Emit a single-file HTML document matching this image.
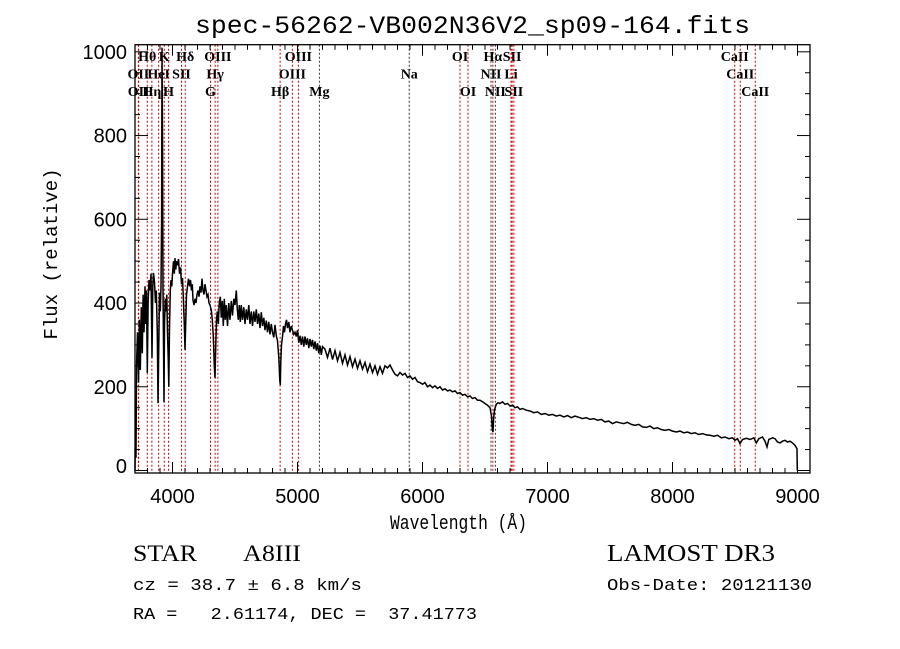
<!DOCTYPE html>
<html><head><meta charset="utf-8"><style>
body{margin:0;background:#fff;}
svg{display:block;}
</style></head><body>
<svg id="chart" width="900" height="649" viewBox="0 0 900 649" xmlns="http://www.w3.org/2000/svg">
<rect width="900" height="649" fill="#fff"/>
<text x="195" y="33" textLength="555" lengthAdjust="spacingAndGlyphs" font-family="Liberation Mono, monospace" font-size="25">spec-56262-VB002N36V2_sp09-164.fits</text>
<g id="lines"></g>
<g id="spec"></g>
<g id="axes"></g>
<text x="390" y="529" textLength="137" lengthAdjust="spacingAndGlyphs" font-family="Liberation Mono, monospace" font-size="20">Wavelength (Å)</text>
<text transform="translate(57,254) rotate(-90)" text-anchor="middle" font-family="Liberation Mono, monospace" font-size="19">Flux (relative)</text>
<text x="133" y="561" textLength="64" lengthAdjust="spacingAndGlyphs" font-family="Liberation Serif, serif" font-size="23">STAR</text>
<text x="243" y="561" textLength="58" lengthAdjust="spacingAndGlyphs" font-family="Liberation Serif, serif" font-size="23">A8III</text>
<text x="607" y="561" textLength="168" lengthAdjust="spacingAndGlyphs" font-family="Liberation Serif, serif" font-size="24">LAMOST DR3</text>
<text x="133" y="590" textLength="229" lengthAdjust="spacingAndGlyphs" font-family="Liberation Mono, monospace" font-size="17">cz = 38.7 ± 6.8 km/s</text>
<text x="607" y="590" textLength="205" lengthAdjust="spacingAndGlyphs" font-family="Liberation Mono, monospace" font-size="17">Obs-Date: 20121130</text>
<text x="133" y="619" xml:space="preserve" textLength="344" lengthAdjust="spacingAndGlyphs" font-family="Liberation Mono, monospace" font-size="17">RA =   2.61174, DEC =  37.41773</text>
</svg>
<script>
const xTicks=[4000,5000,6000,7000,8000,9000];
const yTicks=[0,200,400,600,800,1000];
const lineWave=[3798,3934,4102,4363,5007,6300,6563,6717,8498, 3727,3889,4072,4341,4959,5894,6548,6708,8542, 3729,3835,3969,4304,4861,5175,6364,6583,6731,8662];
const lineLabel=["Hθ","K","Hδ","OIII","OIII","OI","Hα","SII","CaII", "OII","HeI","SII","Hγ","OIII","Na","NII","Li","CaII", "OII","Hη","H","G","Hβ","Mg","OI","NII","SII","CaII"];
const lineRow=[0,0,0,0,0,0,0,0,0, 1,1,1,1,1,1,1,1,1, 2,2,2,2,2,2,2,2,2,2];
const lineDark=["Na","Mg","NII"];
const wave=[3700,3703,3708,3712,3720,3728,3735,3742,3750,3758,3765,3772,3780,3786,3792,3798,3805,3812,3820,3828,3836,3842,3848,3856,3864,3870,3878,3884,3890,3896,3902,3908,3913,3916,3920,3924,3928,3932,3936,3942,3948,3954,3960,3966,3970,3976,3982,3988,3994,4000,4008,4014,4020,4026,4032,4040,4048,4056,4064,4072,4080,4088,4094,4100,4106,4112,4120,4128,4136,4144,4152,4158,4164,4172,4180,4188,4196,4204,4212,4220,4228,4236,4244,4252,4260,4268,4276,4284,4292,4300,4310,4318,4326,4334,4340,4346,4352,4358,4366,4374,4382,4390,4398,4406,4414,4422,4430,4440,4450,4460,4470,4480,4490,4500,4510,4518,4526,4534,4542,4550,4560,4570,4580,4590,4600,4610,4620,4630,4640,4650,4660,4670,4680,4690,4700,4710,4720,4730,4740,4750,4760,4770,4780,4790,4800,4810,4820,4830,4840,4850,4858,4862,4866,4872,4880,4888,4896,4904,4912,4920,4930,4940,4950,4960,4970,4980,4990,5000,5010,5020,5030,5040,5050,5060,5070,5080,5090,5100,5110,5120,5130,5140,5150,5160,5170,5180,5190,5200,5220,5240,5260,5280,5300,5320,5340,5360,5380,5400,5420,5440,5460,5480,5500,5520,5540,5560,5580,5600,5620,5640,5660,5680,5700,5720,5740,5760,5780,5800,5820,5840,5860,5880,5900,5920,5940,5960,5980,6000,6020,6040,6060,6080,6100,6120,6140,6160,6180,6200,6220,6240,6260,6280,6300,6320,6340,6360,6380,6400,6420,6440,6460,6480,6500,6520,6540,6552,6560,6564,6568,6576,6590,6604,6620,6640,6660,6680,6700,6720,6740,6760,6780,6800,6830,6860,6890,6920,6950,6980,7010,7040,7070,7100,7130,7160,7190,7220,7250,7280,7310,7340,7370,7400,7430,7460,7490,7520,7550,7580,7610,7640,7670,7700,7730,7760,7790,7820,7850,7880,7910,7940,7970,8000,8030,8060,8090,8120,8150,8180,8210,8240,8270,8300,8330,8360,8390,8420,8450,8480,8500,8520,8540,8560,8590,8620,8650,8670,8690,8720,8740,8756,8770,8800,8820,8840,8860,8880,8900,8920,8940,8960,8980,8996,8998];
const flux=[0,110,30,250,330,210,360,240,390,280,420,330,440,350,430,233,400,455,430,470,269,440,472,450,400,430,330,161,300,425,380,440,600,1010,800,430,300,163,350,410,380,420,330,260,200,340,430,455,440,470,500,470,507,480,500,490,505,470,485,445,460,400,350,288,360,420,440,458,440,455,430,445,407,395,410,400,420,430,415,440,425,458,430,420,445,430,415,420,400,395,383,360,320,250,221,300,360,380,350,400,415,365,405,345,410,360,395,345,400,360,405,370,410,395,430,385,360,395,355,395,360,390,350,385,360,395,350,380,345,380,355,385,350,375,340,378,345,365,335,358,330,355,325,350,330,318,348,322,310,270,215,204,260,300,320,345,330,350,360,340,355,330,345,335,325,330,320,335,305,322,300,320,296,320,300,316,292,314,296,312,290,308,286,304,280,298,276,296,290,270,292,265,286,262,282,256,276,252,272,248,266,244,262,242,258,236,254,234,250,230,248,232,250,245,252,240,230,226,234,228,232,222,226,218,222,212,210,206,210,200,204,198,202,196,200,192,195,190,192,188,190,184,186,180,182,176,178,172,174,168,168,164,160,156,150,130,95,92,120,145,158,162,160,164,158,160,154,156,150,152,146,148,144,142,138,140,134,136,132,134,130,132,128,131,126,130,127,124,126,122,124,120,122,116,118,112,116,114,112,115,110,108,110,104,103,106,100,102,98,96,98,94,92,94,90,92,88,90,86,88,85,84,82,84,78,80,76,78,72,76,64,74,77,74,78,66,76,80,70,56,74,78,76,68,66,70,72,68,70,66,60,52,0];

const X0=135,X1=810,Y0=44.7,Y1=473;
const WMIN=3700,WMAX=9100,FMIN=-6,FMAX=1017;
const xs=w=>X0+(w-WMIN)/(WMAX-WMIN)*(X1-X0);
const ys=f=>Y1-(f-FMIN)/(FMAX-FMIN)*(Y1-Y0);
const NS="http://www.w3.org/2000/svg";
function mk(tag,parent,attrs){const e=document.createElementNS(NS,tag);for(const k in attrs)e.setAttribute(k,attrs[k]);parent.appendChild(e);return e;}
const gl=document.getElementById('lines'),gs=document.getElementById('spec'),ga=document.getElementById('axes');

lineWave.forEach((w,i)=>{
  const x=xs(w),dark=lineDark.includes(lineLabel[i]);
  const l=mk('line',gl,{x1:x,x2:x,y1:Y0,y2:Y1,stroke:dark?'#333':'#c00000','stroke-width':1,'stroke-dasharray':'2,2'});
  
  
  const t=mk('text',gl,{x:x,y:61+lineRow[i]*17.5,'text-anchor':'middle','font-family':'Liberation Serif, serif','font-size':14,'font-weight':'bold'});
  t.textContent=lineLabel[i];
  
  
});

let d='';
wave.forEach((w,i)=>{const f=Math.max(FMIN,Math.min(FMAX,flux[i]));d+=(i?'L':'M')+xs(w).toFixed(1)+' '+ys(f).toFixed(1);});
const p=mk('path',gs,{d:d,fill:'none',stroke:'#000','stroke-width':1.5});



const fr=mk('rect',ga,{x:X0,y:Y0,width:X1-X0,height:Y1-Y0,fill:'none',stroke:'#000','stroke-width':1.3});


for(let w=3700;w<=9100;w+=100){
  const x=xs(w),maj=w%1000===0,len=maj?11:5;
  mk('line',ga,{x1:x,x2:x,y1:Y1,y2:Y1-len,stroke:'#000'});
  mk('line',ga,{x1:x,x2:x,y1:Y0,y2:Y0+len,stroke:'#000'});
}
xTicks.forEach(w=>{const t=mk('text',ga,{x:xs(w),y:503,'text-anchor':'middle','font-family':'Liberation Sans, sans-serif','font-size':20});t.textContent=w;
  
  });
for(let f=0;f<=1000;f+=50){
  const y=ys(f),maj=f%200===0,len=maj?13:5;
  mk('line',ga,{x1:X0,x2:X0+len,y1:y,y2:y,stroke:'#000'});
  mk('line',ga,{x1:X1,x2:X1-len,y1:y,y2:y,stroke:'#000'});
}
yTicks.forEach(f=>{const t=mk('text',ga,{x:127,y:Math.min(ys(f)+7,473),'text-anchor':'end','font-family':'Liberation Sans, sans-serif','font-size':20});t.textContent=f;
  
  });
</script>
</body></html>
